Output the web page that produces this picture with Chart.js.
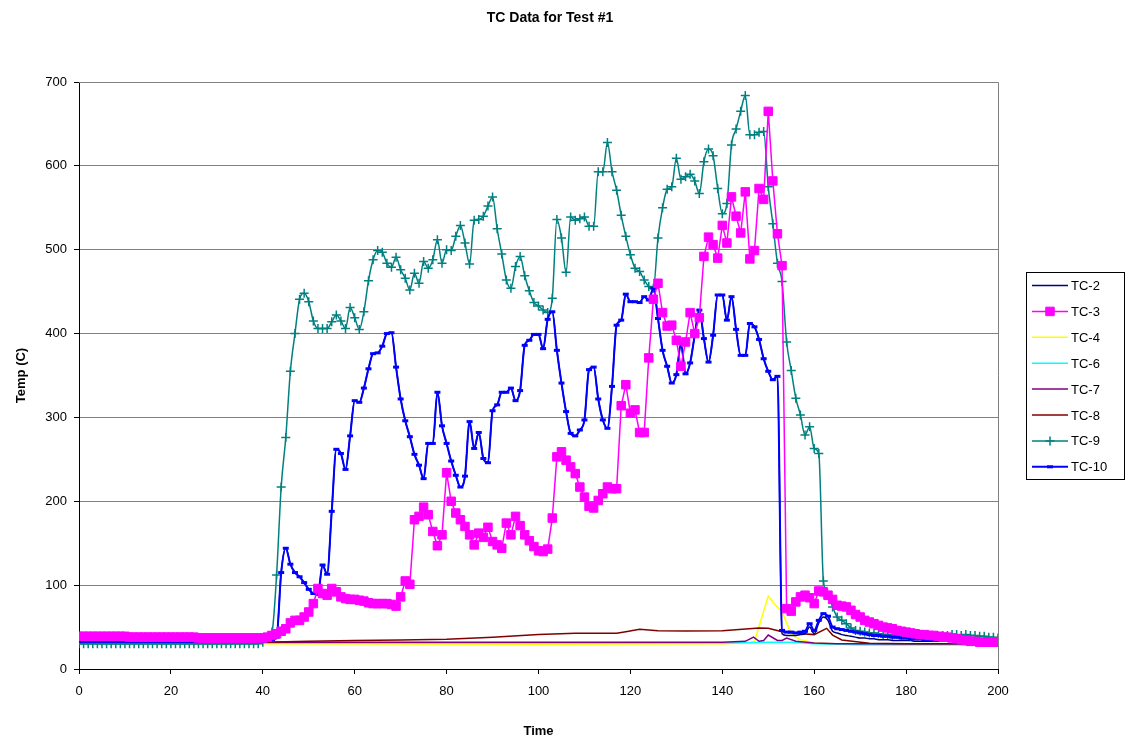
<!DOCTYPE html>
<html>
<head>
<meta charset="utf-8">
<title>TC Data for Test #1</title>
<script src="https://cdn.jsdelivr.net/npm/chart.js@4.4.1/dist/chart.umd.min.js"></script>
<style>
  html, body { margin: 0; padding: 0; background: #fff; }
  #grafico { display: block; }
</style>
</head>
<body>
<canvas id="grafico" width="1129" height="742"></canvas>
<script>
// Tiempo de muestreo (una lectura por unidad)
const tiempos = Array.from({ length: 201 }, (_, i) => i);

const TITULO = 'TC Data for Test #1';

// Lecturas de los termopares principales (t = 0..200)
const tc10Temp = [
  33,33,33,33,33,33,33,33,33,33,
  33,33,33,33,33,33,33,33,33,33,
  33,33,33,33,33,33,33,33,33,33,
  33,33,33,33,33,33,33,33,33,33,
  33,34,35,38,115,144,125,115,110,103,
  95,90,89,124,113,188,262,257,238,278,
  320,318,335,358,376,377,385,400,401,360,
  322,296,277,256,243,227,269,269,330,290,
  269,248,231,217,230,295,263,282,251,246,
  308,315,330,330,335,320,332,386,392,399,
  399,382,417,426,380,341,307,281,278,285,
  297,357,360,322,297,287,337,410,416,447,
  438,438,437,444,440,454,418,380,361,341,
  351,388,352,365,398,428,394,366,398,446,
  446,416,444,405,374,374,412,408,393,370,
  355,345,349,46,44,44,43,44,45,54,
  46,58,66,63,50,48,47,46,45,44,
  43,42,41,40,40,39,39,38,38,37,
  37,36,36,36,35,35,35,35,35,34,
  34,34,34,34,34,34,34,34,34,34,
  34
];

const tc2Temp = [
  33,33,33,33,33,33,33,33,33,33,
  33,33,33,33,33,33,33,33,33,33,
  33,33,33,33,33,33,33,33,33,33,
  33,33,33,33,33,33,33,33,33,33,
  33,34,35,38,115,144,125,115,110,103,
  95,90,89,124,113,188,262,257,238,278,
  320,318,335,358,376,377,385,400,401,360,
  322,296,277,256,243,227,269,269,330,290,
  269,248,231,217,230,295,263,282,251,246,
  308,315,330,330,335,320,332,386,392,399,
  399,382,417,426,380,341,307,281,278,285,
  297,357,360,322,297,287,337,410,416,447,
  438,438,437,444,440,454,418,380,361,341,
  351,388,352,365,398,428,394,366,398,446,
  446,416,444,405,374,374,412,408,393,370,
  355,345,349,42,40,40,40,41,42,50,
  42,55,62,58,45,43,41,40,39,38,
  37,37,36,36,35,35,35,34,34,34,
  34,34,33,33,33,33,33,33,33,33,
  33,33,33,33,33,33,33,33,33,33,
  33
];

const tc3Temp = [
  39,39,39,39,39,39,39,39,39,39,
  39,38,38,38,38,38,38,38,38,38,
  38,38,38,38,38,38,37,37,37,37,
  37,37,37,37,37,37,37,37,37,37,
  37,38,40,42,45,48,55,58,58,62,
  68,78,96,90,88,96,92,86,84,83,
  83,82,81,79,78,78,78,78,77,75,
  86,105,101,178,182,193,184,164,147,160,
  234,200,186,178,170,160,148,162,157,169,
  152,148,144,174,160,182,171,160,153,146,
  141,140,143,180,253,259,249,241,233,217,
  205,194,192,201,209,217,215,215,314,339,
  305,309,282,282,371,441,460,425,409,410,
  392,361,390,425,400,419,492,515,506,490,
  529,508,563,540,520,569,489,499,573,560,
  665,582,519,481,72,69,80,86,88,85,
  78,93,92,88,83,76,75,74,70,65,
  62,58,56,54,52,50,49,48,46,45,
  44,43,42,41,41,40,40,39,38,38,
  37,36,35,34,33,33,32,32,32,32,
  32
];

const tc9Temp = [
  30,30,30,30,30,30,30,30,30,30,
  30,30,30,30,30,30,30,30,30,30,
  30,30,30,30,30,30,30,30,30,30,
  30,30,30,30,30,30,30,30,30,30,
  32,38,44,112,217,276,355,400,441,448,
  438,415,406,406,406,414,422,415,406,431,
  419,405,426,463,488,499,497,484,479,491,
  476,466,452,472,460,486,478,488,512,484,
  500,499,516,529,508,483,535,536,540,552,
  563,525,495,464,454,480,492,469,451,437,
  433,428,425,442,536,514,473,539,535,537,
  539,528,528,593,593,628,593,571,541,516,
  494,478,474,464,456,454,514,550,572,575,
  609,584,587,590,582,567,605,620,612,573,
  543,555,625,644,665,684,637,637,640,641,
  575,531,484,462,390,356,323,303,279,289,
  263,257,105,88,74,62,58,54,49,46,
  45,44,43,43,42,41,41,40,41,40,
  40,39,39,40,39,39,38,39,40,40,
  41,41,40,41,40,40,39,39,38,38,
  37
];

// Termopares de fondo (solo puntos)
const tc4Tiempo = [0, 40, 100, 140, 146, 147, 150, 151, 152, 153, 154, 155, 156, 157, 160, 170, 200];
const tc4Temp   = [30, 30, 29.5, 30, 31, 33, 87, 80, 74, 68, 55, 42, 38, 35, 31, 29, 29];

const tc6Tiempo = [0, 100, 140, 150, 155, 160, 170, 200];
const tc6Temp   = [31, 31, 31, 32, 32, 30, 29, 29];

const tc7Tiempo = [0, 40, 80, 120, 140, 145, 146.8, 148, 149, 150, 152, 153, 154, 156, 160, 165, 200];
const tc7Temp   = [32, 32, 32, 32, 32, 33, 38, 33, 34, 40.5, 34, 34, 37, 33, 31, 30, 30];

const tc8Tiempo = [0, 20, 40, 50, 60, 70, 80, 90, 100, 108, 117, 119, 122, 126, 132, 140, 148, 150, 153, 156, 160, 162.7, 164, 166, 172, 180, 200];
const tc8Temp   = [31, 31, 32, 33, 34, 34.5, 35.5, 38, 41, 42.5, 42.5, 44.5, 47.5, 45.7, 45.3, 45.5, 49, 48.5, 44.5, 42.5, 41, 48.5, 40.5, 34.6, 30.6, 30, 30];

const FUENTE = "'Liberation Sans', Arial, Helvetica, sans-serif";

function pares(xs, ys) {
  return xs.map((x, i) => ({ x: x, y: ys[i] }));
}

// Título, marco del área de trazado y leyenda con recuadro
const marcoYLeyenda = {
  id: 'marcoYLeyenda',
  beforeDatasetsDraw(chart) {
    const { ctx, chartArea: a } = chart;
    ctx.save();
    ctx.strokeStyle = '#808080';
    ctx.lineWidth = 1;
    ctx.beginPath();
    ctx.moveTo(a.left, Math.round(a.top) + 0.5);
    ctx.lineTo(Math.round(a.right) + 0.5, Math.round(a.top) + 0.5);
    ctx.lineTo(Math.round(a.right) + 0.5, a.bottom);
    ctx.stroke();
    ctx.restore();
  },
  afterDraw(chart) {
    const ctx = chart.ctx;
    ctx.save();

    // Título
    ctx.fillStyle = '#000';
    ctx.font = 'bold 14px ' + FUENTE;
    ctx.textAlign = 'center';
    ctx.textBaseline = 'middle';
    ctx.fillText(TITULO, 550, 18);

    // Leyenda
    const caja = { x: 1026.5, y: 272.5, w: 98, h: 207 };
    ctx.fillStyle = '#fff';
    ctx.fillRect(caja.x, caja.y, caja.w, caja.h);
    ctx.strokeStyle = '#000';
    ctx.lineWidth = 1;
    ctx.strokeRect(caja.x, caja.y, caja.w, caja.h);
    ctx.font = '13px ' + FUENTE;
    ctx.textBaseline = 'middle';
    ctx.textAlign = 'left';
    const orden = ['TC-2', 'TC-3', 'TC-4', 'TC-6', 'TC-7', 'TC-8', 'TC-9', 'TC-10'];
    orden.forEach((etiqueta, i) => {
      const ds = chart.data.datasets.find(d => d.label === etiqueta);
      const y = 285.5 + i * 25.9;
      ctx.strokeStyle = ds.borderColor;
      ctx.lineWidth = ds.borderWidth;
      ctx.beginPath();
      ctx.moveTo(1032, y);
      ctx.lineTo(1068, y);
      ctx.stroke();
      if (ds.pointRadius > 0) {
        ctx.fillStyle = ds.pointBackgroundColor;
        ctx.strokeStyle = ds.pointBorderColor;
        ctx.lineWidth = ds.pointBorderWidth;
        Chart.helpers.drawPoint(ctx, {
          pointStyle: ds.pointStyle,
          radius: ds.pointRadius,
          borderWidth: ds.pointBorderWidth,
          rotation: 0
        }, 1050, y);
      }
      ctx.fillStyle = '#000';
      ctx.fillText(etiqueta, 1071, y + 1);
    });
    ctx.restore();
  }
};

const ctx = document.getElementById('grafico').getContext('2d');

new Chart(ctx, {
  type: 'line',
  data: {
    labels: tiempos,
    datasets: [
      {
        label: 'TC-2',
        data: tc2Temp,
        borderColor: '#000080',
        borderWidth: 1.5,
        pointRadius: 0,
        cubicInterpolationMode: 'monotone',
        order: 3
      },
      {
        label: 'TC-3',
        data: tc3Temp,
        borderColor: '#ff00ff',
        borderWidth: 1.5,
        pointStyle: 'rect',
        pointRadius: 6,
        pointBorderWidth: 1,
        pointBackgroundColor: '#ff00ff',
        pointBorderColor: '#ff00ff',
        order: 0
      },
      {
        label: 'TC-4',
        data: pares(tc4Tiempo, tc4Temp),
        borderColor: '#ffff00',
        borderWidth: 1.5,
        pointRadius: 0,
        order: 7
      },
      {
        label: 'TC-6',
        data: pares(tc6Tiempo, tc6Temp),
        borderColor: '#00ffff',
        borderWidth: 1.5,
        pointRadius: 0,
        order: 6
      },
      {
        label: 'TC-7',
        data: pares(tc7Tiempo, tc7Temp),
        borderColor: '#800080',
        borderWidth: 1.5,
        pointRadius: 0,
        order: 5
      },
      {
        label: 'TC-8',
        data: pares(tc8Tiempo, tc8Temp),
        borderColor: '#800000',
        borderWidth: 1.5,
        pointRadius: 0,
        order: 4
      },
      {
        label: 'TC-9',
        data: tc9Temp,
        borderColor: '#008080',
        borderWidth: 1.5,
        pointStyle: 'cross',
        pointRadius: 4.5,
        pointBorderWidth: 1.5,
        pointBackgroundColor: '#008080',
        pointBorderColor: '#008080',
        cubicInterpolationMode: 'monotone',
        order: 2
      },
      {
        label: 'TC-10',
        data: tc10Temp,
        borderColor: '#0000ff',
        borderWidth: 2,
        pointStyle: 'line',
        pointRadius: 3,
        pointBorderWidth: 3,
        pointBackgroundColor: '#0000ff',
        pointBorderColor: '#0000ff',
        cubicInterpolationMode: 'monotone',
        order: 1
      }
    ]
  },
  options: {
    responsive: false,
    animation: false,
    devicePixelRatio: 1,
    layout: { padding: { top: 82, right: 131, bottom: 0, left: 0 } },
    plugins: {
      legend: { display: false },
      tooltip: { enabled: false },
      title: { display: false }
    },
    scales: {
      x: {
        type: 'linear',
        min: 0,
        max: 200,
        ticks: {
          stepSize: 20,
          color: '#000',
          font: { family: FUENTE, size: 13 },
          padding: 10,
          maxRotation: 0
        },
        grid: { drawOnChartArea: false, drawTicks: true, tickLength: 5, color: '#000' },
        border: { display: true, color: '#000', width: 1 },
        title: {
          display: true,
          text: 'Time',
          color: '#000',
          font: { family: FUENTE, size: 13, weight: 'bold' },
          padding: { top: 0, bottom: 3 }
        },
        afterFit(scale) { scale.height = 73; }
      },
      y: {
        min: 0,
        max: 700,
        ticks: {
          stepSize: 100,
          color: '#000',
          font: { family: FUENTE, size: 13 },
          padding: 7
        },
        grid: { color: '#808080', drawTicks: true, tickLength: 5, tickColor: '#000' },
        border: { display: true, color: '#000', width: 1 },
        title: {
          display: true,
          text: 'Temp (C)',
          color: '#000',
          font: { family: FUENTE, size: 13, weight: 'bold' },
          padding: { top: 14, bottom: 0 }
        },
        afterFit(scale) { scale.width = 79; }
      }
    }
  },
  plugins: [marcoYLeyenda]
});
</script>
</body>
</html>
